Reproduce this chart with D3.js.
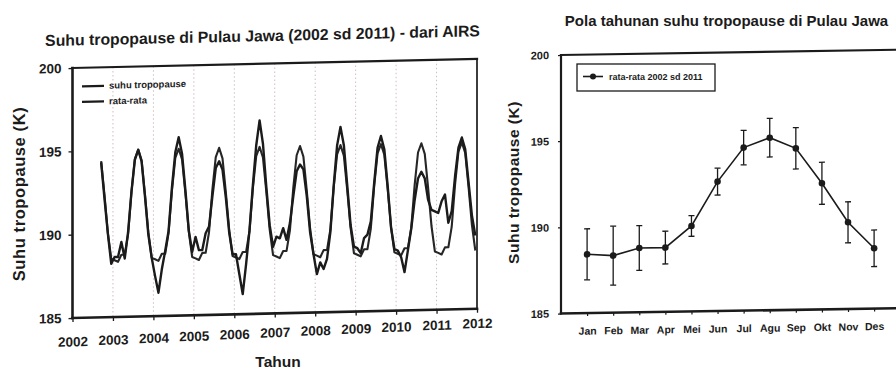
<!DOCTYPE html>
<html>
<head>
<meta charset="utf-8">
<script src="https://cdn.jsdelivr.net/npm/d3@7"></script>
<style>
  body { margin: 0; background: #fff; }
  svg { display: block; font-family: 'Liberation Sans', Arial, sans-serif; }
</style>
</head>
<body>
<svg id="chart" width="896" height="371"></svg>
<script>
const months = ['Jan', 'Feb', 'Mar', 'Apr', 'Mei', 'Jun', 'Jul', 'Agu', 'Sep', 'Okt', 'Nov', 'Des'];
const monthlyMean = [188.41, 188.31, 188.73, 188.73, 189.96, 192.51, 194.46, 195.01, 194.37, 192.32, 190.03, 188.5];
const monthlyStd = [1.48, 1.71, 1.3, 0.95, 0.6, 0.78, 1.0, 1.12, 1.2, 1.22, 1.19, 1.06];
const yearTicks = [2002, 2003, 2004, 2005, 2006, 2007, 2008, 2009, 2010, 2011, 2012];
const tempTicks = [185, 190, 195, 200];
const seriesStartYear = 2002;
const seriesStartMonth = 9;

// monthly AIRS tropopause temperature, Sep 2002 .. Dec 2011
const suhuTropopause = [
  194.3, 192.1, 190.0, 188.2,
  188.6, 188.6, 189.5, 188.5, 190.1, 192.5, 194.4, 195.0, 194.3, 192.2, 189.9, 188.5,
  187.4, 186.4, 187.8, 188.9, 190.1, 192.7, 194.8, 195.7, 194.7, 192.5, 190.1, 188.8,
  189.7, 188.9, 188.9, 189.9, 190.3, 192.1, 193.8, 194.2, 193.7, 192.0, 189.9, 188.6,
  188.6, 187.4, 186.2, 188.0, 190.0, 192.7, 195.1, 196.6, 195.2, 192.6, 190.3, 189.0,
  189.6, 189.5, 190.1, 189.4, 190.4, 192.0, 193.5, 193.9, 193.6, 192.0, 189.8, 188.5,
  187.3, 188.0, 187.6, 188.2, 189.8, 192.6, 195.0, 196.1, 195.0, 192.6, 190.2, 188.9,
  188.8, 188.5, 189.4, 189.6, 190.4, 192.7, 194.8, 195.5, 194.7, 192.5, 190.0, 188.7,
  188.6, 188.2, 187.3, 188.6, 189.9, 191.6, 192.9, 193.3, 192.9, 191.6, 191.0, 190.9,
  190.8, 191.5, 191.9, 190.2, 190.9, 193.0, 194.7, 195.3, 194.6, 192.6, 190.6, 189.4,
];

const ink = '#1b1b1b';
const svg = d3.select('#chart');

const skew = (x0, deg) => `translate(${x0},0) skewY(${deg}) translate(${-x0},0)`;

const monthIndex = i => seriesStartMonth - 1 + i;
const timeOf = i => seriesStartYear + Math.floor(monthIndex(i) / 12) + ((monthIndex(i) % 12) + 0.5) / 12;

/* ---------- left panel: time series ---------- */
const x = d3.scaleLinear().domain([2002, 2012]).range([72.5, 477]);
const y = d3.scaleLinear().domain([185, 200]).range([318, 68]);

const left = svg.append('g').attr('transform', skew(72.5, -1.3));

left.append('g')
  .selectAll('line')
  .data(yearTicks.slice(1, -1))
  .join('line')
  .attr('x1', d => x(d))
  .attr('x2', d => x(d))
  .attr('y1', y(200))
  .attr('y2', y(185))
  .attr('stroke', '#cdbfc2')
  .attr('stroke-width', 1)
  .attr('stroke-dasharray', '1.5,2.5');

const xAxis = g => g
  .attr('transform', `translate(0,${y(185)})`)
  .call(d3.axisBottom(x).tickValues(yearTicks).tickFormat(d3.format('d')).tickSize(4))
  .call(g => g.select('.domain').remove())
  .call(g => g.selectAll('line').attr('stroke', ink).attr('stroke-width', 1.3))
  .call(g => g.selectAll('text')
    .attr('dy', null)
    .attr('y', d => 28.5 - 0.0228 * (x(d) - 72.5))
    .attr('font-size', 13.5)
    .attr('font-weight', 'bold')
    .attr('fill', ink));

const yAxis = g => g
  .attr('transform', `translate(${x(2002)},0)`)
  .call(d3.axisLeft(y).tickValues(tempTicks).tickSize(4))
  .call(g => g.select('.domain').remove())
  .call(g => g.selectAll('line').attr('stroke', ink).attr('stroke-width', 1.3))
  .call(g => g.selectAll('text')
    .attr('x', -11)
    .attr('font-size', 13.5)
    .attr('font-weight', 'bold')
    .attr('fill', ink));

left.append('g').call(xAxis).attr('font-family', null);
left.append('g').call(yAxis).attr('font-family', null);

const frame = [
  { x1: x(2002), y1: y(200), x2: x(2002), y2: y(185), w: 2.6 },
  { x1: x(2002), y1: y(185), x2: x(2012), y2: y(185), w: 2.6 },
  { x1: x(2002), y1: y(200), x2: x(2012), y2: y(200), w: 2.2 },
  { x1: x(2012), y1: y(200), x2: x(2012), y2: y(185), w: 1.7 },
];

left.append('g')
  .selectAll('line')
  .data(frame)
  .join('line')
  .attr('x1', d => d.x1)
  .attr('y1', d => d.y1)
  .attr('x2', d => d.x2)
  .attr('y2', d => d.y2)
  .attr('stroke', ink)
  .attr('stroke-width', d => d.w)
  .attr('stroke-linecap', 'square');

const seriesLine = d3.line()
  .x((d, i) => x(timeOf(i)))
  .y(d => y(d));

const rataRata = suhuTropopause.map((d, i) => monthlyMean[monthIndex(i) % 12]);

left.append('path')
  .datum(rataRata)
  .attr('d', seriesLine)
  .attr('fill', 'none')
  .attr('stroke', '#262626')
  .attr('stroke-width', 2.1)
  .attr('stroke-linejoin', 'round');

left.append('path')
  .datum(suhuTropopause)
  .attr('d', seriesLine)
  .attr('fill', 'none')
  .attr('stroke', ink)
  .attr('stroke-width', 2.4)
  .attr('stroke-linejoin', 'round');

const leftLegend = left.append('g')
  .selectAll('g')
  .data(['suhu tropopause', 'rata-rata'])
  .join('g')
  .attr('transform', (d, i) => `translate(82,${86.5 + i * 15.5})`);

leftLegend.append('line')
  .attr('x2', 22)
  .attr('stroke', ink)
  .attr('stroke-width', 2.3);

leftLegend.append('text')
  .attr('x', 27)
  .attr('dy', '0.32em')
  .attr('font-size', 9.5)
  .attr('font-weight', 'bold')
  .attr('fill', ink)
  .text(d => d);

left.append('text')
  .attr('x', 262.5)
  .attr('y', 45.5)
  .attr('text-anchor', 'middle')
  .attr('font-size', 15.8)
  .attr('font-weight', 'bold')
  .attr('fill', ink)
  .text('Suhu tropopause di Pulau Jawa (2002 sd 2011) - dari AIRS');

svg.append('text')
  .attr('transform', 'translate(25,194) rotate(-90)')
  .attr('text-anchor', 'middle')
  .attr('font-size', 16.5)
  .attr('font-weight', 'bold')
  .attr('letter-spacing', 0.6)
  .attr('fill', ink)
  .text('Suhu tropopause (K)');

svg.append('text')
  .attr('x', 278)
  .attr('y', 367)
  .attr('text-anchor', 'middle')
  .attr('font-size', 15.5)
  .attr('font-weight', 'bold')
  .attr('fill', ink)
  .text('Tahun');

/* ---------- right panel: annual pattern ---------- */
const xm = d3.scaleLinear().domain([0, 13]).range([561, 900.2]);
const ym = d3.scaleLinear().domain([185, 200]).range([313.5, 55]);

const right = svg.append('g').attr('transform', skew(561, -0.9));

right.append('g')
  .attr('transform', `translate(0,${ym(185)})`)
  .call(d3.axisBottom(xm).tickValues(d3.range(1, 13)).tickFormat(d => months[d - 1]).tickSize(3))
  .attr('font-family', null)
  .call(g => g.select('.domain').remove())
  .call(g => g.selectAll('line').attr('stroke', ink).attr('stroke-width', 1.2))
  .call(g => g.selectAll('text')
    .attr('dy', null)
    .attr('y', 21.5)
    .attr('font-size', 10.5)
    .attr('font-weight', 'bold')
    .attr('fill', ink));

right.append('g')
  .attr('transform', `translate(${xm(0)},0)`)
  .call(d3.axisLeft(ym).tickValues(tempTicks).tickSize(3))
  .attr('font-family', null)
  .call(g => g.select('.domain').remove())
  .call(g => g.selectAll('line').attr('stroke', ink).attr('stroke-width', 1.2))
  .call(g => g.selectAll('text')
    .attr('x', -12)
    .attr('font-size', 11)
    .attr('font-weight', 'bold')
    .attr('fill', ink));

right.append('g')
  .selectAll('line')
  .data([
    { x1: xm(0), y1: ym(200), x2: xm(0), y2: ym(185), w: 2.2 },
    { x1: xm(0), y1: ym(185), x2: xm(13), y2: ym(185), w: 2.6 },
    { x1: xm(0), y1: ym(200), x2: xm(13), y2: ym(200), w: 2.2 },
  ])
  .join('line')
  .attr('x1', d => d.x1)
  .attr('y1', d => d.y1)
  .attr('x2', d => d.x2)
  .attr('y2', d => d.y2)
  .attr('stroke', ink)
  .attr('stroke-width', d => d.w)
  .attr('stroke-linecap', 'square');

const bars = right.append('g')
  .selectAll('g')
  .data(monthlyMean.map((m, i) => ({ m, s: monthlyStd[i], i })))
  .join('g')
  .attr('stroke', ink)
  .attr('stroke-width', 1.3);

bars.append('line')
  .attr('x1', d => xm(d.i + 1))
  .attr('x2', d => xm(d.i + 1))
  .attr('y1', d => ym(d.m - d.s))
  .attr('y2', d => ym(d.m + d.s));

bars.selectAll('.cap')
  .data(d => [d.m - d.s, d.m + d.s].map(v => ({ v, i: d.i })))
  .join('line')
  .attr('class', 'cap')
  .attr('x1', d => xm(d.i + 1) - 3)
  .attr('x2', d => xm(d.i + 1) + 3)
  .attr('y1', d => ym(d.v))
  .attr('y2', d => ym(d.v));

right.append('path')
  .datum(monthlyMean)
  .attr('d', d3.line().x((d, i) => xm(i + 1)).y(d => ym(d)))
  .attr('fill', 'none')
  .attr('stroke', ink)
  .attr('stroke-width', 1.6);

right.append('g')
  .selectAll('circle')
  .data(monthlyMean)
  .join('circle')
  .attr('cx', (d, i) => xm(i + 1))
  .attr('cy', d => ym(d))
  .attr('r', 3.3)
  .attr('fill', ink);

const legendBox = svg.append('g').attr('transform', 'translate(577,64)');

legendBox.append('rect')
  .attr('width', 138)
  .attr('height', 27)
  .attr('fill', 'none')
  .attr('stroke', ink)
  .attr('stroke-width', 1.3);

legendBox.append('line')
  .attr('x1', 6)
  .attr('x2', 26)
  .attr('y1', 12.5)
  .attr('y2', 12.5)
  .attr('stroke', ink)
  .attr('stroke-width', 1.6);

legendBox.append('circle')
  .attr('cx', 16)
  .attr('cy', 12.5)
  .attr('r', 3)
  .attr('fill', ink);

legendBox.append('text')
  .attr('x', 32)
  .attr('y', 12.5)
  .attr('dy', '0.35em')
  .attr('font-size', 9)
  .attr('font-weight', 'bold')
  .attr('fill', ink)
  .text('rata-rata 2002 sd 2011');

svg.append('text')
  .attr('x', 726.5)
  .attr('y', 26)
  .attr('text-anchor', 'middle')
  .attr('font-size', 15)
  .attr('font-weight', 'bold')
  .attr('fill', ink)
  .text('Pola tahunan suhu tropopause di Pulau Jawa');

svg.append('text')
  .attr('transform', 'translate(519,182.5) rotate(-90)')
  .attr('text-anchor', 'middle')
  .attr('font-size', 15.5)
  .attr('font-weight', 'bold')
  .attr('letter-spacing', 0.5)
  .attr('fill', ink)
  .text('Suhu tropopause (K)');
</script>
</body>
</html>
